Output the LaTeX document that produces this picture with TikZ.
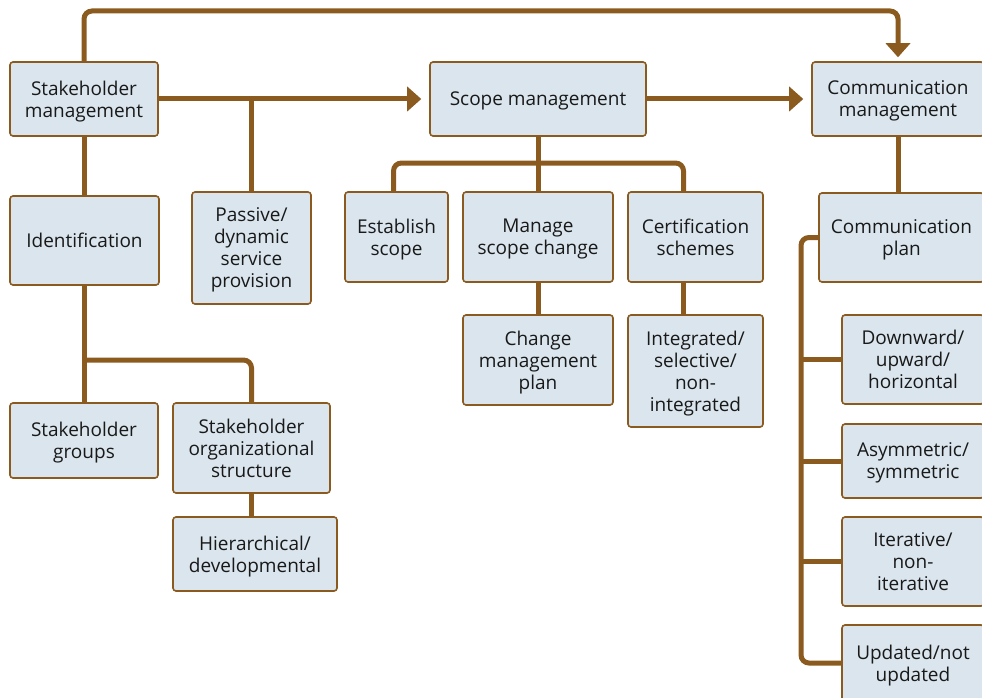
\documentclass[tikz,border=0pt]{standalone}
\usepackage{fontspec}
\setmainfont{Open Sans}
\usetikzlibrary{arrows.meta}
\definecolor{boxfill}{HTML}{DAE5ED}
\definecolor{linkbrown}{HTML}{8B5A1E}
\tikzstyle{topic}=[draw=linkbrown, line width=1.6pt, fill=boxfill, rounded corners=3pt, align=center, inner sep=0pt, text depth=0pt, text=black!90, font=\fontsize{19}{22}\selectfont]
\tikzstyle{link}=[draw=linkbrown, line width=5pt, rounded corners=8pt]
\tikzstyle{arrowlink}=[link, -{Triangle[length=14pt, width=25pt, line width=0pt]}, shorten >=8pt]

\begin{document}
\begin{tikzpicture}[x=1pt, y=-1pt]
				\useasboundingbox (0,0) rectangle (982,698);

				% Top row
				\node[topic, minimum width=148pt, minimum height=74pt] (stm) at ( 84, 99) {Stakeholder\\management};
				\node[topic, minimum width=216pt, minimum height=74pt] (scm) at (538, 99) {Scope management};
				\node[topic, minimum width=172pt, minimum height=74pt] (com) at (898, 99) {Communication\\management};

				% Stakeholder side
				\node[topic, minimum width=149pt, minimum height=89pt] (idn) at ( 84.5,240.5) {Identification};
				\node[topic, minimum width=119pt, minimum height=112pt] (psv) at (251.5,248) {Passive/\\dynamic\\service\\provision};
				\node[topic, minimum width=148pt, minimum height=75pt] (shg) at ( 84,440.5) {Stakeholder\\groups};
				\node[topic, minimum width=157pt, minimum height=90pt] (sho) at (251.5,448) {Stakeholder\\organizational\\structure};
				\node[topic, minimum width=164pt, minimum height=74pt] (hid) at (255,554) {Hierarchical/\\developmental};

				% Scope side
				\node[topic, minimum width=103pt, minimum height=90pt] (est) at (396.5,237) {Establish\\scope};
				\node[topic, minimum width=150pt, minimum height=90pt] (msc) at (538,237) {Manage\\scope change};
				\node[topic, minimum width=135pt, minimum height=90pt] (cer) at (695.5,237) {Certification\\schemes};
				\node[topic, minimum width=150pt, minimum height=90pt] (cmp) at (538,360) {Change\\management\\plan};
				\node[topic, minimum width=135pt, minimum height=112pt] (isn) at (695.5,371) {Integrated/\\selective/\\non-\\integrated};

				% Communication side
				\node[topic, minimum width=165pt, minimum height=89pt] (cpl) at (901.5,237.5) {Communication\\plan};
				\node[topic, minimum width=142pt, minimum height=89pt] (duh) at (913,359.5) {Downward/\\upward/\\horizontal};
				\node[topic, minimum width=142pt, minimum height=74pt] (asy) at (913,461) {Asymmetric/\\symmetric};
				\node[topic, minimum width=142pt, minimum height=89pt] (itr) at (913,561.5) {Iterative/\\non-\\iterative};
				\node[topic, minimum width=142pt, minimum height=76pt] (upd) at (913,663) {Updated/not\\updated};

				% Arrows between the managements
				\coordinate (ceil) at (0,11);
				\draw[arrowlink, shorten >=4pt] (stm.north) |- (ceil -| com.north) -- (com.north);
				\draw[arrowlink] (stm.east) -- (scm.west);
				\draw[arrowlink] (scm.east) -- (com.west);
				\draw[link] (stm.east -| psv.north) -- (psv.north);

				% Stakeholder tree
				\coordinate (ibar) at (0,360);
				\draw[link] (stm.south) -- (stm.south |- idn.north);
				\draw[link] (stm.south |- idn.south) -- (stm.south |- shg.north);
				\draw[link] (ibar -| stm.south) -| (sho.north);
				\draw[link] (sho.south) -- (sho.south |- hid.north);

				% Scope tree
				\coordinate (sbar) at (0,163);
				\coordinate (cerin) at ([xshift=-12pt]cer.north);
				\draw[link] (scm.south) -- (msc.north);
				\draw[link] ([xshift=-3pt]est.north) |- (sbar -| cerin) -- (cerin);
				\draw[link] (msc.south) -- (cmp.north);
				\draw[link] (cer.south -| cerin) -- (isn.north -| cerin);

				% Communication tree
				\coordinate (cbar) at (801,0);
				\draw[link] (com.south) -- (com.south |- cpl.north);
				\draw[link] (cpl.west) -| (cbar |- upd.west) -- (upd.west);
				\foreach \n in {duh, asy, itr}{ \draw[link] (cbar |- \n.west) -- (\n.west); }
			\end{tikzpicture}
\end{document}
